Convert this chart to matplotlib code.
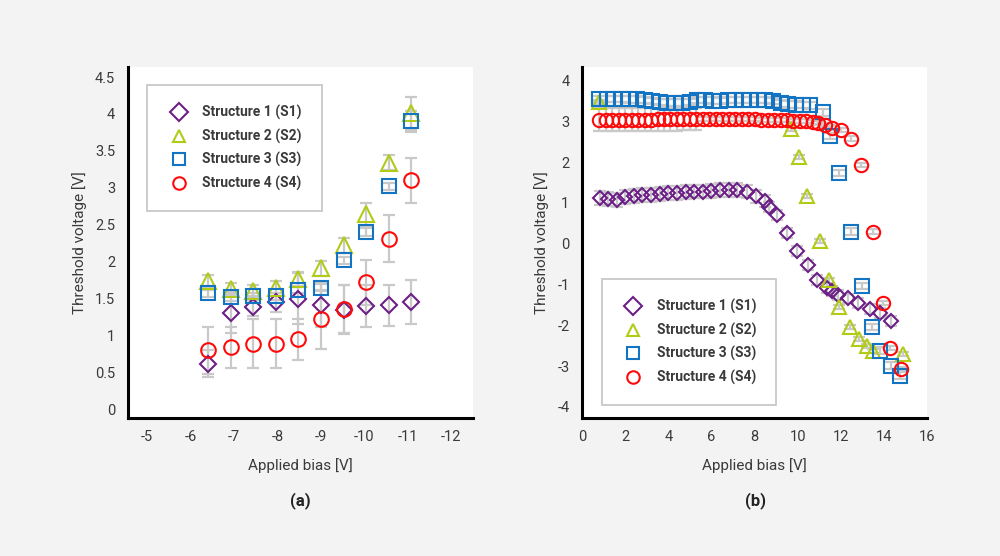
import matplotlib
matplotlib.use("Agg")
import matplotlib.pyplot as plt

plt.rcParams['font.family'] = ['Roboto', 'DejaVu Sans']
plt.rcParams['axes.unicode_minus'] = False

labels = ['Structure 1 (S1)', 'Structure 2 (S2)', 'Structure 3 (S3)', 'Structure 4 (S4)']
colors = ['#6b1f86', '#b2cb16', '#1474c4', '#ff0a0a']
markers = ['D', '^', 's', 'o']

# (a) threshold voltage vs negative bias
bias_a = [-6.4, -6.92, -7.44, -7.96, -8.48, -9.0, -9.52, -10.04, -10.56, -11.08]
s1_a = [0.62, 1.31, 1.39, 1.45, 1.50, 1.41, 1.35, 1.40, 1.41, 1.45]
s2_a = [1.74, 1.63, 1.61, 1.64, 1.76, 1.91, 2.22, 2.64, 3.34, 4.01]
s3_a = [1.57, 1.52, 1.53, 1.53, 1.62, 1.65, 2.02, 2.40, 3.02, 3.90]
s4_a = [0.80, 0.84, 0.89, 0.89, 0.95, 1.22, 1.36, 1.72, 2.31, 3.10]
s1_a_err = [0.18, 0.28, 0.12, 0.13, 0.35, 0.30, 0.33, 0.28, 0.28, 0.30]
s2_a_err = [0.08, 0.08, 0.08, 0.10, 0.10, 0.10, 0.10, 0.16, 0.10, 0.22]
s3_a_err = [0.05, 0.05, 0.05, 0.05, 0.05, 0.05, 0.05, 0.05, 0.05, 0.14]
s4_a_err = [0.32, 0.28, 0.33, 0.33, 0.28, 0.40, 0.32, 0.30, 0.32, 0.31]

# (b) threshold voltage vs positive bias
s1_bx = [0.83, 1.2, 1.6, 2.0, 2.4, 2.8, 3.2, 3.6, 4.0, 4.4, 4.8, 5.2, 5.6, 6.0, 6.4, 6.8,
         7.2, 7.63, 8.05, 8.48, 8.65, 9.02, 9.5, 9.98, 10.45, 10.87, 11.34, 11.6, 11.88,
         12.34, 12.78, 13.35, 13.81, 14.3]
s1_b = [1.12, 1.10, 1.08, 1.14, 1.18, 1.20, 1.20, 1.22, 1.24, 1.25, 1.26, 1.28, 1.28, 1.30,
        1.32, 1.32, 1.32, 1.28, 1.16, 1.04, 0.91, 0.70, 0.27, -0.18, -0.52, -0.88, -1.09,
        -1.15, -1.25, -1.34, -1.45, -1.60, -1.69, -1.89]
s1_b_err = [0.17, 0.17, 0.17, 0.17, 0.17, 0.17, 0.17, 0.17, 0.17, 0.17, 0.17, 0.17, 0.17,
            0.17, 0.17, 0.17, 0.17, 0.15, 0.15, 0.15, 0.12, 0.12, 0.12, 0.12, 0.12, 0.12,
            0.12, 0.12, 0.12, 0.12, 0.12, 0.12, 0.12, 0.12]

s2_bx = [0.8, 9.67, 10.04, 10.44, 11.03, 11.45, 11.9, 12.43, 12.85, 13.19, 13.5, 14.89]
s2_b = [3.48, 2.81, 2.12, 1.16, 0.06, -0.90, -1.55, -2.04, -2.33, -2.50, -2.63, -2.70]
s2_b_err = [0.05, 0.05, 0.05, 0.05, 0.05, 0.05, 0.05, 0.05, 0.05, 0.05, 0.05, 0.05]

s3_bx = [0.8, 1.15, 1.5, 1.85, 2.2, 2.55, 2.9, 3.25, 3.6, 3.95, 4.3, 4.65, 5.0, 5.35, 5.7,
         6.05, 6.4, 6.75, 7.1, 7.45, 7.8, 8.15, 8.5, 8.85, 9.2, 9.55, 9.9, 10.25, 10.55,
         11.15, 11.5, 11.92, 12.45, 12.96, 13.42, 13.81, 14.3, 14.74]
s3_b = [3.55, 3.55, 3.55, 3.55, 3.54, 3.54, 3.53, 3.50, 3.48, 3.46, 3.46, 3.46, 3.48, 3.52,
        3.52, 3.51, 3.50, 3.53, 3.53, 3.52, 3.52, 3.53, 3.52, 3.50, 3.44, 3.42, 3.41, 3.40,
        3.39, 3.22, 2.64, 1.73, 0.30, -1.04, -2.04, -2.62, -2.99, -3.23]
s3_b_err = [0.08, 0.08, 0.08, 0.08, 0.08, 0.08, 0.08, 0.08, 0.08, 0.08, 0.08, 0.08, 0.08,
            0.08, 0.08, 0.08, 0.08, 0.08, 0.08, 0.08, 0.08, 0.08, 0.08, 0.08, 0.08, 0.08,
            0.08, 0.08, 0.08, 0.08, 0.08, 0.08, 0.08, 0.08, 0.08, 0.08, 0.08, 0.08]

s4_bx = [0.8, 1.1, 1.4, 1.7, 2.0, 2.3, 2.6, 2.9, 3.2, 3.5, 3.8, 4.1, 4.4, 4.7, 5.0, 5.3,
         5.6, 5.9, 6.2, 6.5, 6.8, 7.1, 7.4, 7.7, 8.0, 8.3, 8.6, 8.9, 9.2, 9.5, 9.8, 10.1,
         10.4, 10.7, 10.95, 11.25, 11.57, 11.99, 12.45, 12.91, 13.47, 13.93, 14.27, 14.79]
s4_b = [3.04, 3.04, 3.04, 3.04, 3.04, 3.04, 3.04, 3.04, 3.04, 3.05, 3.05, 3.05, 3.05, 3.06,
        3.06, 3.06, 3.06, 3.06, 3.06, 3.06, 3.05, 3.05, 3.05, 3.05, 3.05, 3.04, 3.04, 3.04,
        3.03, 3.03, 3.02, 3.02, 3.01, 2.99, 2.96, 2.92, 2.85, 2.79, 2.58, 1.92, 0.30, -1.45,
        -2.55, -3.08]
s4_b_err = [0.28, 0.28, 0.28, 0.28, 0.28, 0.28, 0.28, 0.28, 0.28, 0.28, 0.28, 0.28, 0.28,
            0.28, 0.28, 0.28, 0.05, 0.05, 0.05, 0.05, 0.05, 0.05, 0.05, 0.05, 0.05, 0.05,
            0.05, 0.05, 0.05, 0.05, 0.05, 0.05, 0.05, 0.05, 0.05, 0.05, 0.05, 0.05, 0.05,
            0.05, 0.05, 0.05, 0.05, 0.05]

err_color = '#c9c9c9'
text_color = '#3a3a3a'


def style_axes(ax):
    ax.set_facecolor('white')
    for side in ['top', 'right']:
        ax.spines[side].set_visible(False)
    for side in ['left', 'bottom']:
        ax.spines[side].set_linewidth(2.2)
        ax.spines[side].set_color('black')
    ax.tick_params(length=0, pad=9, labelsize=10.5, labelcolor=text_color)
    ax.set_xlabel('Applied bias [V]', fontsize=11, color=text_color, labelpad=10)
    ax.set_ylabel('Threshold voltage [V]', fontsize=11, color=text_color, labelpad=6)


def draw(ax, xs, ys, errs, sizes):
    handles = []
    for x, y, e, c, m, lab, ms in zip(xs, ys, errs, colors, markers, labels, sizes):
        ax.errorbar(x, y, yerr=e, fmt='none', ecolor=err_color, elinewidth=1.6,
                    capsize=4, capthick=1.6, zorder=2)
        h, = ax.plot(x, y, linestyle='none', marker=m, markersize=ms, markerfacecolor='none',
                     markeredgecolor=c, markeredgewidth=1.5, label=lab, zorder=3)
        handles.append(h)
    return handles


def add_legend(ax, handles, anchor):
    leg = ax.legend(handles=handles, loc='upper left', bbox_to_anchor=anchor,
                    borderaxespad=0, fancybox=False, framealpha=1, edgecolor='#c8c8c8',
                    borderpad=1.45, labelspacing=0.62, handletextpad=0.9, handlelength=1.6,
                    prop={'size': 10, 'weight': 'bold'})
    leg.get_frame().set_linewidth(1.3)
    for t in leg.get_texts():
        t.set_color(text_color)
    for h in leg.legend_handles:
        h.set_markersize(9)


fig = plt.figure(figsize=(10, 5.56), dpi=100, facecolor='#f3f3f3')
ax1 = fig.add_axes([0.1277, 0.249, 0.3453, 0.631])
ax2 = fig.add_axes([0.582, 0.249, 0.3453, 0.631])

style_axes(ax1)
h1 = draw(ax1, [bias_a] * 4, [s1_a, s2_a, s3_a, s4_a],
          [s1_a_err, s2_a_err, s3_a_err, s4_a_err], [8.2, 11, 10.3, 10.5])
ax1.set_xlim(-4.55, -12.5)
ax1.set_ylim(-0.11, 4.64)
ax1.set_xticks([-5, -6, -7, -8, -9, -10, -11, -12])
ax1.set_yticks([0, 0.5, 1, 1.5, 2, 2.5, 3, 3.5, 4, 4.5])
ax1.set_yticklabels(['0', '0.5', '1', '1.5', '2', '2.5', '3', '3.5', '4', '4.5'])
add_legend(ax1, h1, (0.057, 0.948))

style_axes(ax2)
h2 = draw(ax2, [s1_bx, s2_bx, s3_bx, s4_bx], [s1_b, s2_b, s3_b, s4_b],
          [s1_b_err, s2_b_err, s3_b_err, s4_b_err], [7.6, 10, 9.4, 9.6])
ax2.set_xlim(0, 16)
ax2.set_ylim(-4.26, 4.34)
ax2.set_xticks([0, 2, 4, 6, 8, 10, 12, 14, 16])
ax2.set_yticks([-4, -3, -2, -1, 0, 1, 2, 3, 4])
add_legend(ax2, h2, (0.057, 0.395))

fig.text(0.300, 0.10, '(a)', ha='center', va='center', fontsize=12, fontweight='bold', color='#222222')
fig.text(0.755, 0.10, '(b)', ha='center', va='center', fontsize=12, fontweight='bold', color='#222222')

fig.savefig('out.png', dpi=100, facecolor=fig.get_facecolor())
